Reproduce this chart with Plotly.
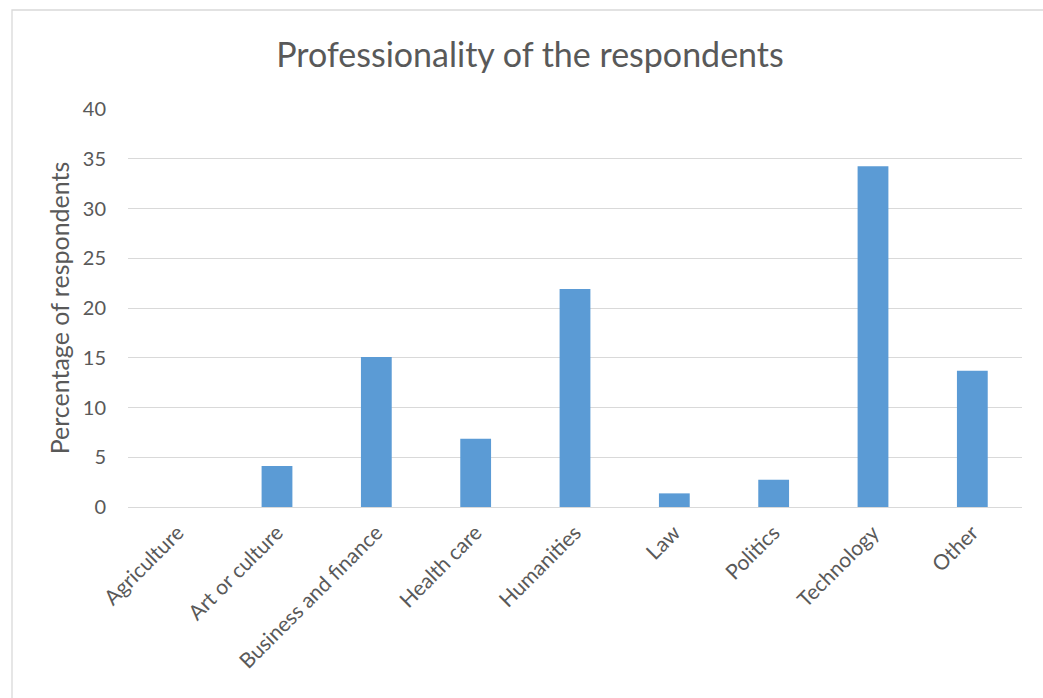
import plotly.graph_objects as go

categories = ["Agriculture", "Art or culture", "Business and finance", "Health care",
              "Humanities", "Law", "Politics", "Technology", "Other"]
percentages = [0, 4.11, 15.07, 6.85, 21.92, 1.37, 2.74, 34.25, 13.70]
y_ticks = [0, 5, 10, 15, 20, 25, 30, 35, 40]

W, H = 1043, 698
L, R, T, B = 128, 21, 109, 191
pw, ph = W - L - R, H - T - B

fig = go.Figure(go.Bar(x=categories, y=percentages, marker_color="#5b9bd5",
                       marker_line_width=0))

font_family = "Lato, 'Open Sans', sans-serif"
fig.update_layout(
    width=W, height=H,
    margin=dict(l=L, r=R, t=T, b=B),
    paper_bgcolor="white", plot_bgcolor="white",
    bargap=0.69,
    font=dict(family=font_family, color="#595959", size=20),
    title=dict(text="Professionality of the respondents", x=(273 + 787) / 2 / W,
               xanchor="center", y=1 - 55 / H, yanchor="middle",
               font=dict(size=34, color="#595959", family=font_family)),
    showlegend=False,
)
fig.update_yaxes(range=[0, 40], tickvals=y_ticks, showgrid=True, gridcolor="#d9d9d9",
                 gridwidth=1.3, zeroline=False, showline=False, ticks="",
                 tickfont=dict(size=20), ticklabelstandoff=21,
                 title=dict(text="Percentage of respondents", font=dict(size=25), standoff=6))
fig.update_xaxes(tickangle=-45, showline=True, linecolor="#d9d9d9", linewidth=1.3,
                 ticks="", tickfont=dict(size=21), ticklabelstandoff=4)

# chart border
fig.add_shape(type="rect", xref="paper", yref="paper",
              x0=(12 - L) / pw, x1=(1060 - L) / pw,
              y0=-(720 - (T + ph)) / ph, y1=1 + (T - 10) / ph,
              line=dict(color="#d9d9d9", width=1.3), fillcolor="rgba(0,0,0,0)",
              layer="below")

fig.write_html("out.html")
